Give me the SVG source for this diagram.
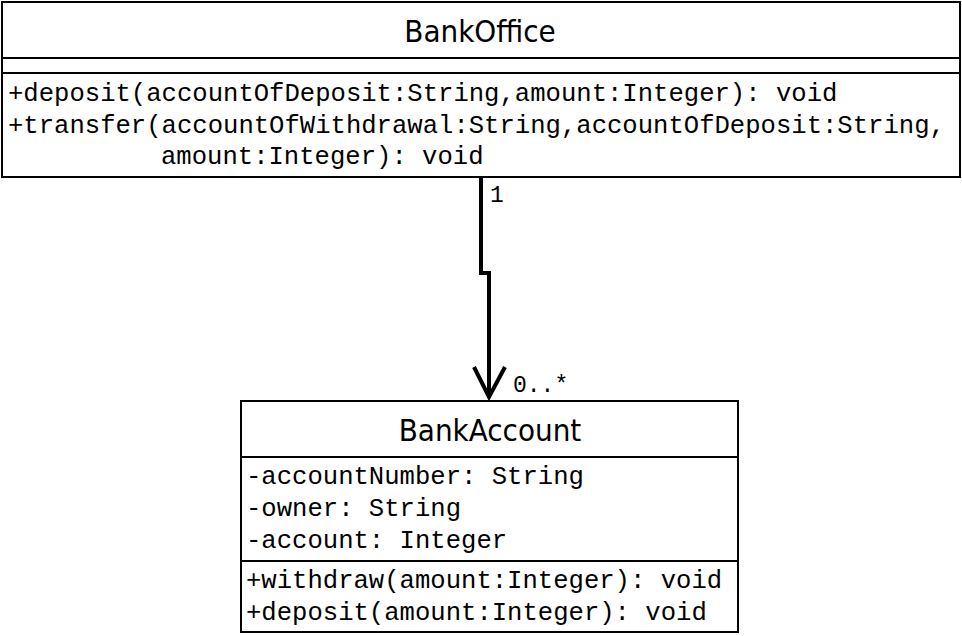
<svg xmlns="http://www.w3.org/2000/svg" width="962" height="636" viewBox="0 0 962 636">
<style>
.box{fill:#fff;stroke:#000;stroke-width:2}
.sep{stroke:#000;stroke-width:2}
.title{font-family:"DejaVu Sans Condensed","DejaVu Sans",sans-serif;font-size:31px;text-anchor:middle;fill:#000}
.mono{font-family:"Liberation Mono","Courier New",monospace;font-size:25.6px;fill:#000}
.lbl{font-family:"Liberation Mono","Courier New",monospace;font-size:23px;fill:#000}
.edge{fill:none;stroke:#000;stroke-width:4}
</style>
<rect width="962" height="636" fill="#fff"/>
<g id="BankOffice">
<rect class="box" x="2" y="2" width="958" height="175"/>
<line class="sep" x1="2" y1="58" x2="960" y2="58"/>
<line class="sep" x1="2" y1="73" x2="960" y2="73"/>
<text class="title" x="480" y="42">BankOffice</text>
<text class="mono" x="8" y="101">+deposit(accountOfDeposit:String,amount:Integer): void</text>
<text class="mono" x="8" y="133">+transfer(accountOfWithdrawal:String,accountOfDeposit:String,</text>
<text class="mono" x="161" y="164">amount:Integer): void</text>
</g>
<g id="BankAccount">
<rect class="box" x="241" y="401" width="497" height="231"/>
<line class="sep" x1="241" y1="457" x2="738" y2="457"/>
<line class="sep" x1="241" y1="561" x2="738" y2="561"/>
<text class="title" x="490" y="441">BankAccount</text>
<text class="mono" x="246" y="484">-accountNumber: String</text>
<text class="mono" x="246" y="516">-owner: String</text>
<text class="mono" x="246" y="548">-account: Integer</text>
<text class="mono" x="246" y="588">+withdraw(amount:Integer): void</text>
<text class="mono" x="246" y="620">+deposit(amount:Integer): void</text>
</g>
<g id="connectors">
<polyline class="edge" points="481,177 481,273 489,273 489,398"/>
<polyline class="edge" points="474,367 489,397 505,367"/>
<text class="lbl" x="490" y="202">1</text>
<text class="lbl" x="513" y="392">0..*</text>
</g>
</svg>
